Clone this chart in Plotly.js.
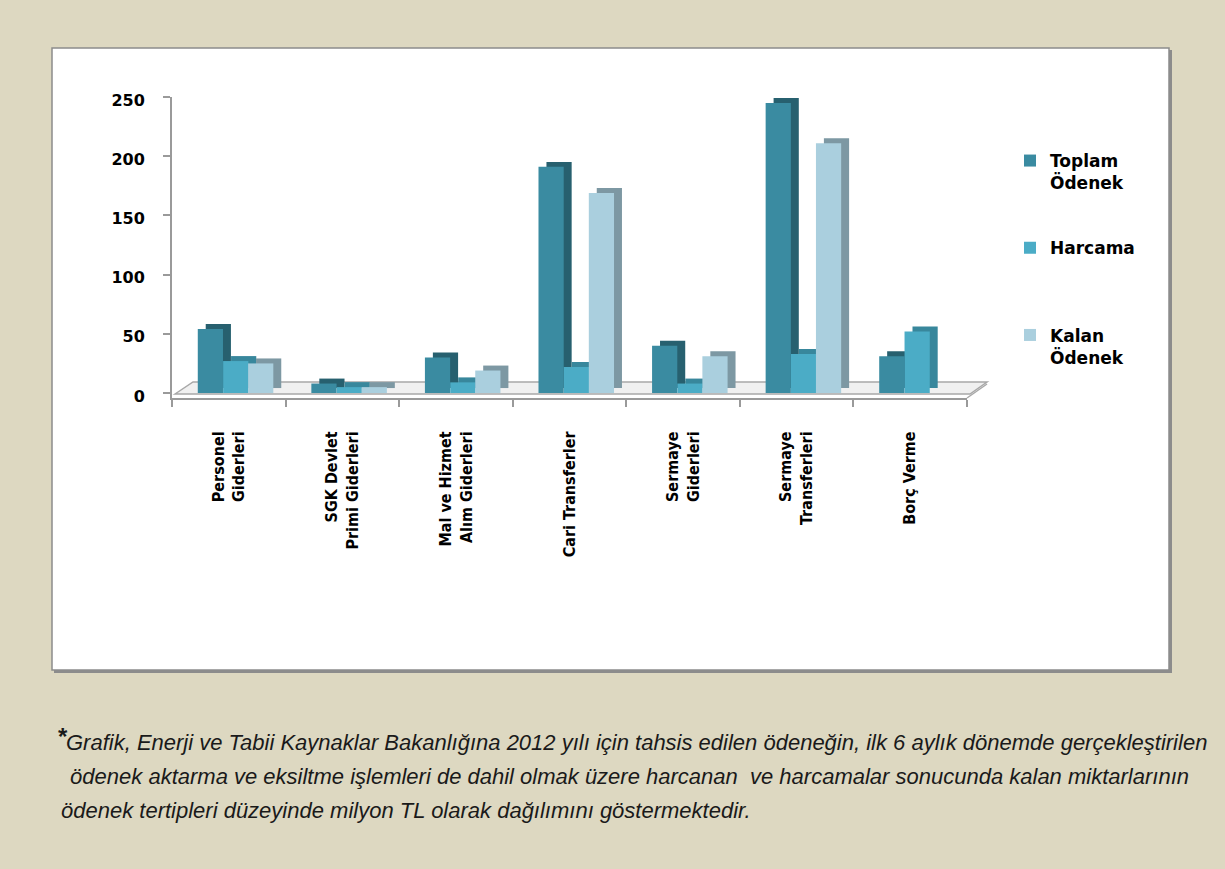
<!DOCTYPE html>
<html>
<head>
<meta charset="utf-8">
<script src="https://cdn.plot.ly/plotly-3.0.1.min.js"></script>
<style>html,body{margin:0;padding:0;background:#DDD8C1;}#chart{width:1225px;height:869px;}</style>
</head>
<body>
<div id="chart"></div>
<script>
// ---- data ----
const categories = ['Personel<br>Giderleri', 'SGK Devlet<br>Primi Giderleri', 'Mal ve Hizmet<br>Alım Giderleri', 'Cari Transferler', 'Sermaye<br>Giderleri', 'Sermaye<br>Transferleri', 'Borç Verme'];
const toplamOdenek = [54, 8, 30, 191, 40, 245, 31];
const harcama = [27, 5, 9, 22, 8, 33, 52];
const kalanOdenek = [25, 5, 19, 169, 31, 211, 0];
const seriesNames = ['Toplam<br>Ödenek', 'Harcama<br>&nbsp;', 'Kalan<br>Ödenek'];
const yTicks = [0, 50, 100, 150, 200, 250];
const footLines = [
  'Grafik, Enerji ve Tabii Kaynaklar Bakanlığına 2012 yılı için tahsis edilen ödeneğin, ilk 6 aylık dönemde gerçekleştirilen',
  ' ödenek aktarma ve eksiltme işlemleri de dahil olmak üzere harcanan  ve harcamalar sonucunda kalan miktarlarının',
  'ödenek tertipleri düzeyinde milyon TL olarak dağılımını göstermektedir.'
];

// ---- layout geometry (pixels) ----
const W = 1225, H = 869;
const L = 172, R = 967, T = 97, B = 398;
const PW = R - L, PH = B - T;
const px = x => (x - L) / PW;
const py = y => (B - y) / PH;

const frontColors = ['#3A8BA1', '#4BACC6', '#AACFDE'];
const sideColors = ['#27606F', '#38879C', '#7D98A3'];
const offsets = [-0.273, -0.05, 0.17];
const barW = 0.222;
const DX = 0.07, DY = 4.2;
const seriesVals = [toplamOdenek, harcama, kalanOdenek];

const traces = [];
seriesVals.forEach((vals, i) => {
  traces.push({
    type: 'bar', x: categories, y: vals, base: DY,
    offset: offsets[i] + DX, width: barW,
    marker: {color: sideColors[i], line: {width: 0}},
    showlegend: false, hoverinfo: 'skip', legendgroup: 'g' + i
  });
  traces.push({
    type: 'bar', x: categories, y: vals, name: seriesNames[i],
    offset: offsets[i], width: barW,
    marker: {color: frontColors[i], line: {width: 0}},
    legendgroup: 'g' + i
  });
});

const shapes = [
  // panel shadow + panel
  {type: 'rect', xref: 'paper', yref: 'paper', x0: px(54), x1: px(1172), y0: py(50), y1: py(673),
   fillcolor: '#8C8C8C', line: {width: 0}, layer: 'below'},
  {type: 'rect', xref: 'paper', yref: 'paper', x0: px(52), x1: px(1169), y0: py(48), y1: py(670),
   fillcolor: '#FFFFFF', line: {color: '#8C8C8C', width: 1.5}, layer: 'below'},
  // floor
  {type: 'path', xref: 'paper', yref: 'paper', layer: 'below',
   path: 'M ' + px(175) + ',' + py(394) + ' L ' + px(193) + ',' + py(382) + ' L ' + px(987) + ',' + py(382) +
         ' L ' + px(970) + ',' + py(394) + ' Z',
   fillcolor: '#F0F0F0', line: {color: '#A8A8A8', width: 1.5}},
  {type: 'path', xref: 'paper', yref: 'paper', layer: 'below',
   path: 'M ' + px(967) + ',' + py(398) + ' L ' + px(987) + ',' + py(384),
   line: {color: '#A8A8A8', width: 1.5}}
];

const footFont = {family: 'Liberation Sans Narrow, Liberation Sans, Arial, sans-serif', size: 22, color: '#1A1A1A', style: 'italic'};
const annotations = [
  {xref: 'paper', yref: 'paper', x: px(56), y: py(737), xanchor: 'left', yanchor: 'middle', showarrow: false,
   text: '<b>*</b>', font: {family: 'Liberation Sans, Arial, sans-serif', size: 24, color: '#1A1A1A'}},
  {xref: 'paper', yref: 'paper', x: px(64), y: py(742), xanchor: 'left', yanchor: 'middle', showarrow: false,
   text: footLines[0], font: footFont},
  {xref: 'paper', yref: 'paper', x: px(62), y: py(777), xanchor: 'left', yanchor: 'middle', showarrow: false,
   text: footLines[1], font: footFont},
  {xref: 'paper', yref: 'paper', x: px(59), y: py(811), xanchor: 'left', yanchor: 'middle', showarrow: false,
   text: footLines[2], font: footFont}
];

const layout = {
  width: W, height: H,
  margin: {l: L, r: W - R, t: T, b: H - B, pad: 0},
  paper_bgcolor: '#DDD8C1', plot_bgcolor: 'rgba(0,0,0,0)',
  barmode: 'overlay', showlegend: true,
  font: {family: 'DejaVu Sans, sans-serif', color: '#000'},
  xaxis: {
    type: 'category', categoryorder: 'array', categoryarray: categories, range: [-0.5, 6.5],
    showline: true, linecolor: '#9A9A9A', linewidth: 2, showgrid: false, zeroline: false,
    ticks: 'outside', tickson: 'boundaries', ticklen: 7, tickcolor: '#9A9A9A', tickwidth: 2,
    tickangle: -90, ticklabelstandoff: 25,
    tickfont: {family: 'DejaVu Sans Condensed, DejaVu Sans, sans-serif', size: 16, weight: 'bold', color: '#000'}
  },
  yaxis: {
    range: [-DY, 250], tickvals: yTicks, ticktext: yTicks.map(String),
    showline: true, linecolor: '#9A9A9A', linewidth: 2, showgrid: false, zeroline: false,
    ticks: 'outside', ticklen: 7, tickcolor: '#9A9A9A', tickwidth: 2, ticklabelstandoff: 15,
    ticklabelshift: 3,
    tickfont: {family: 'DejaVu Sans, sans-serif', size: 16, weight: 'bold', color: '#000'}
  },
  legend: {
    x: px(1010), xanchor: 'left', y: py(143), yanchor: 'top',
    bgcolor: 'rgba(0,0,0,0)', borderwidth: 0, traceorder: 'grouped', tracegroupgap: 40,
    valign: 'top', itemclick: false,
    font: {family: 'DejaVu Sans, sans-serif', size: 17, weight: 'bold', color: '#000'}
  },
  shapes: shapes,
  annotations: annotations
};

Plotly.newPlot('chart', traces, layout, {displayModeBar: false, staticPlot: true});
</script>
</body>
</html>
